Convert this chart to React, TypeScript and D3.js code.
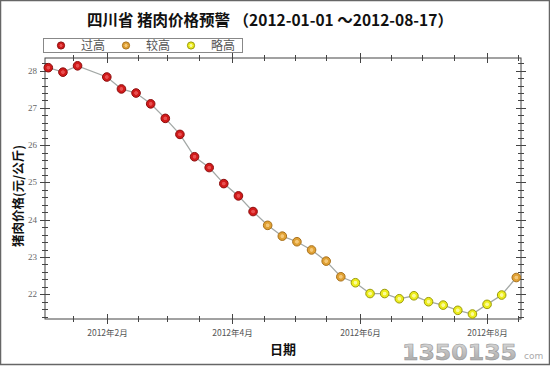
import React from "react";
import * as d3 from "d3";

const dates = [
  "2012-01-04", "2012-01-11", "2012-01-18",
  "2012-02-01", "2012-02-08", "2012-02-15", "2012-02-22", "2012-02-29",
  "2012-03-07", "2012-03-14", "2012-03-21", "2012-03-28",
  "2012-04-04", "2012-04-11", "2012-04-18", "2012-04-25",
  "2012-05-02", "2012-05-09", "2012-05-16", "2012-05-23", "2012-05-30",
  "2012-06-06", "2012-06-13", "2012-06-20", "2012-06-27",
  "2012-07-04", "2012-07-11", "2012-07-18", "2012-07-25",
  "2012-08-01", "2012-08-08", "2012-08-15",
];
const prices = [
  28.08, 27.96, 28.13,
  27.83, 27.51, 27.40, 27.11, 26.72,
  26.29, 25.69, 25.40, 24.97,
  24.64, 24.22, 23.85, 23.56,
  23.41, 23.19, 22.89, 22.47, 22.31,
  22.02, 22.02, 21.88, 21.96,
  21.80, 21.71, 21.57, 21.47,
  21.73, 21.98, 22.45,
];
// 0 = 过高, 1 = 较高, 2 = 略高
const levels = [
  0, 0, 0,
  0, 0, 0, 0, 0,
  0, 0, 0, 0,
  0, 0, 1, 1,
  1, 1, 1, 1, 2,
  2, 2, 2, 2,
  2, 2, 2, 2,
  2, 2, 1,
];
const legendLabels = ["过高", "较高", "略高"];
const levelFill = ["#d11a1a", "#e0a134", "#eded1c"];
const levelStroke = ["#8c0c0c", "#a8701a", "#9a9a08"];
const levelLight = ["#e85050", "#f5c878", "#fbfb9a"];
const title = "四川省 猪肉价格预警 （2012-01-01 ～2012-08-17）";
const xTitle = "日期";
const yTitle = "猪肉价格(元/公斤)";
const watermark = "1350135";
const watermarkSuffix = "com";
const xDomain = ["2012-01-02T10:00:00", "2012-08-17T06:00:00"];
const yDomain = [21.337, 28.34];

const W = 550;
const H = 366;
const M = { left: 45, right: 521, top: 58, bottom: 319 };

export default function App() {
  const parse = (s: string) => new Date(s);
  const x = d3.scaleTime().domain(xDomain.map(parse) as [Date, Date]).range([M.left, M.right]);
  const y = d3.scaleLinear().domain(yDomain as [number, number]).range([M.bottom, M.top]);

  const data = dates.map((d, i) => ({ date: parse(d + "T00:00:00"), v: prices[i], lvl: levels[i] }));
  const line = d3
    .line<{ date: Date; v: number }>()
    .x((d) => x(d.date))
    .y((d) => y(d.v));

  // x ticks: 1st and 16th of each month
  const [d0, d1] = x.domain();
  const xTicks: { d: Date; major: boolean }[] = [];
  d3.timeMonth.range(d3.timeMonth.floor(d0), d1).forEach((m) => {
    const a = m;
    const b = new Date(m.getFullYear(), m.getMonth(), 16);
    if (a >= d0 && a <= d1) xTicks.push({ d: a, major: m.getMonth() % 2 === 1 });
    if (b >= d0 && b <= d1) xTicks.push({ d: b, major: false });
  });
  const fmt = d3.timeFormat("%Y年%-m月");

  const yMinor = d3.range(Math.ceil(yDomain[0] * 5), Math.floor(yDomain[1] * 5) + 1).map((k) => k / 5);
  const yMajor = y.ticks(7).filter((t) => Number.isInteger(t));

  const labelFont = "'Liberation Serif', 'DejaVu Serif', serif";
  const cjk = "'Noto Sans CJK SC', sans-serif";

  return (
    <svg
      width={W}
      height={H}
      style={{ position: "absolute", left: 0, top: 0, background: "#fff" }}
    >
      <defs>
        {levelFill.map((c, i) => (
          <radialGradient id={"g" + i} key={i} cx="50%" cy="50%" r="50%">
            <stop offset="0%" stopColor={levelLight[i]} />
            <stop offset="35%" stopColor={levelLight[i]} />
            <stop offset="50%" stopColor={c} />
            <stop offset="100%" stopColor={c} />
          </radialGradient>
        ))}
        <linearGradient id="wm" x1="0" y1="0" x2="0" y2="1">
          <stop offset="0%" stopColor="#dedede" />
          <stop offset="100%" stopColor="#a0a0a0" />
        </linearGradient>
      </defs>
      <rect x={0.5} y={0.5} width={W - 1} height={H - 2} fill="#fff" stroke="#666" strokeWidth={1.5} />

      {/* title */}
      <text x={270} y={26} textAnchor="middle" fontFamily={cjk} fontWeight="bold" fontSize={15.5} fill="#111">
        {title}
      </text>

      {/* legend */}
      <rect x={43.5} y={38.5} width={199} height={14} fill="#fff" stroke="#888" strokeWidth={1} />
      {legendLabels.map((l, i) => {
        const cx = 61 + i * 65;
        return (
          <g key={l}>
            <circle cx={cx} cy={45.5} r={3.6} fill={`url(#g${i})`} stroke={levelStroke[i]} strokeWidth={1} />
            <text x={cx + 20} y={50} fontFamily={cjk} fontSize={12} fill="#555">
              {l}
            </text>
          </g>
        );
      })}

      {/* frame */}
      <rect x={M.left} y={M.top} width={M.right - M.left} height={M.bottom - M.top} fill="none" stroke="#444" strokeWidth={1} />

      {/* y ticks left & right */}
      {yMinor.map((t) => {
        const isMajor = Math.abs(t - Math.round(t)) < 1e-6;
        const len = isMajor ? 5 : 3;
        const yy = Math.round(y(t)) + 0.5;
        return (
          <g key={"y" + t}>
            <line x1={M.left - len} x2={M.left + len} y1={yy} y2={yy} stroke="#444" />
            <line x1={M.right - len} x2={M.right + len} y1={yy} y2={yy} stroke="#444" />
          </g>
        );
      })}
      {yMajor.map((t) => (
        <text key={"yl" + t} x={37} y={y(t) + 3} textAnchor="end" fontFamily={labelFont} fontSize={9} fill="#666">
          {t}
        </text>
      ))}

      {/* x ticks bottom & top */}
      {xTicks.map((t, i) => {
        const xx = Math.round(x(t.d)) + 0.5;
        const len = t.major ? 5 : 3;
        return (
          <g key={"x" + i}>
            <line x1={xx} x2={xx} y1={M.bottom - len} y2={M.bottom + len} stroke="#444" />
            <line x1={xx} x2={xx} y1={M.top - len} y2={M.top + len} stroke="#444" />
            {t.major && (
              <text x={xx} y={336} textAnchor="middle" fontFamily={cjk} fontSize={8.5} fill="#555">
                {fmt(t.d)}
              </text>
            )}
          </g>
        );
      })}

      {/* axis titles */}
      <text x={283} y={354} textAnchor="middle" fontFamily={cjk} fontWeight="bold" fontSize={13} fill="#111">
        {xTitle}
      </text>
      <text
        transform={`translate(23, 196) rotate(-90)`}
        textAnchor="middle"
        fontFamily={cjk}
        fontWeight="bold"
        fontSize={12.5}
        fill="#111"
      >
        {yTitle}
      </text>

      {/* data line */}
      <path d={line(data) || ""} fill="none" stroke="#a3a8a6" strokeWidth={1.3} />
      {data.map((d, i) => (
        <circle
          key={"p" + i}
          cx={x(d.date)}
          cy={y(d.v)}
          r={4.3}
          fill={`url(#g${d.lvl})`}
          stroke={levelStroke[d.lvl]}
          strokeWidth={1}
        />
      ))}

      {/* watermark */}
      <text
        x={402}
        y={360}
        fontFamily="'DejaVu Sans', sans-serif"
        fontWeight="bold"
        fontSize={22}
        fill="url(#wm)"
        stroke="#999"
        strokeWidth={0.6}
        textLength={115}
        lengthAdjust="spacingAndGlyphs"
      >
        {watermark}
      </text>
      <text x={524} y={359} fontFamily="'DejaVu Sans', sans-serif" fontSize={9} fill="#aaa">
        {watermarkSuffix}
      </text>
    </svg>
  );
}
